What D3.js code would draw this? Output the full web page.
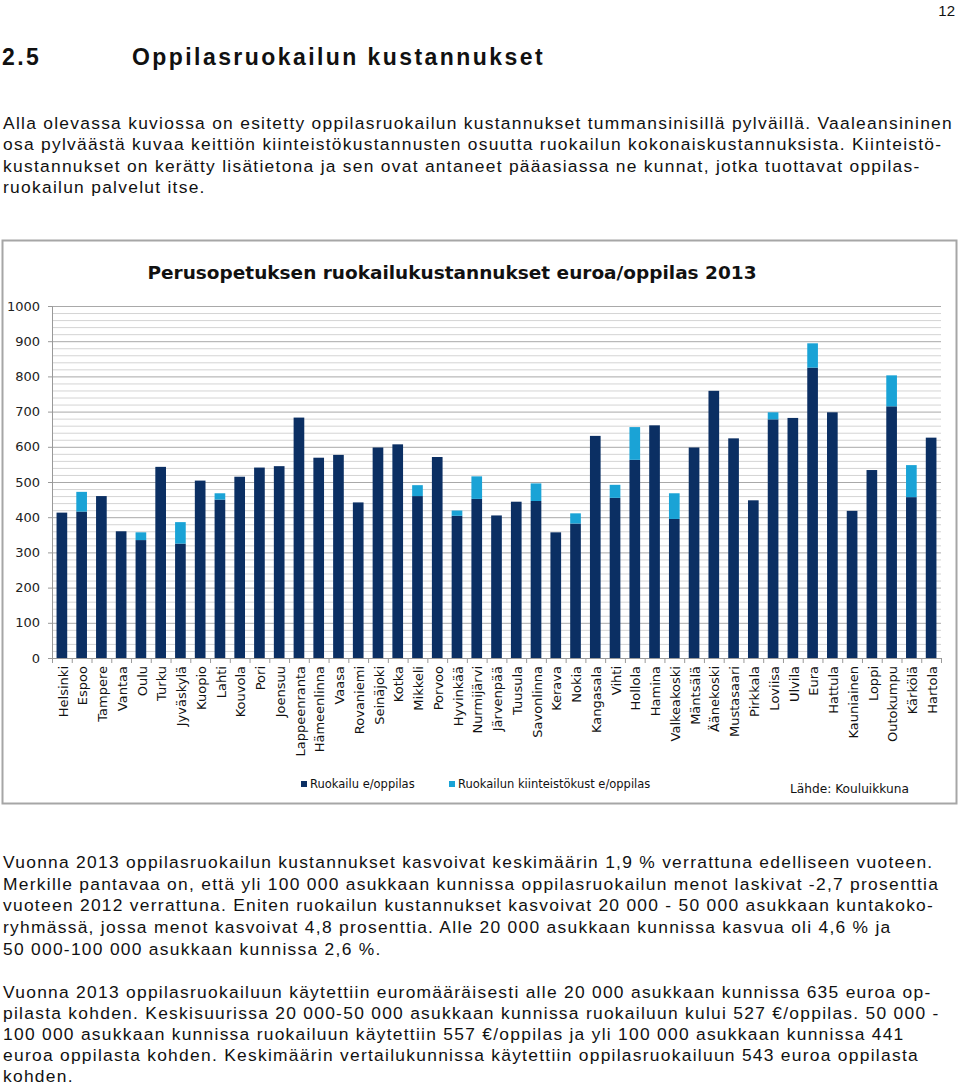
<!DOCTYPE html>
<html><head><meta charset="utf-8">
<script src="https://cdn.jsdelivr.net/npm/d3@7"></script>
<style>body{margin:0;background:#fff}svg{display:block}</style>
</head><body>
<svg id="c" width="960" height="1086"></svg>
<script>
// ---------- DATA ----------
const categories = ["Helsinki","Espoo","Tampere","Vantaa","Oulu","Turku","Jyväskylä","Kuopio","Lahti","Kouvola","Pori","Joensuu","Lappeenranta","Hämeenlinna","Vaasa","Rovaniemi","Seinäjoki","Kotka","Mikkeli","Porvoo","Hyvinkää","Nurmijärvi","Järvenpää","Tuusula","Savonlinna","Kerava","Nokia","Kangasala","Vihti","Hollola","Hamina","Valkeakoski","Mäntsälä","Äänekoski","Mustasaari","Pirkkala","Loviisa","Ulvila","Eura","Hattula","Kauniainen","Loppi","Outokumpu","Kärkölä","Hartola"];
const ruokailu   = [413,416,460,360,335,543,325,504,450,515,541,545,683,569,577,442,598,607,460,571,404,452,405,444,446,357,382,631,455,563,661,395,598,759,624,448,678,682,825,698,418,534,715,457,626];
const kiinteisto = [0,56,0,0,22,0,61,0,18,0,0,0,0,0,0,0,0,0,31,0,15,64,0,0,50,0,29,0,37,93,0,73,0,0,0,0,20,0,69,0,0,0,88,91,0];
const yTicks = [0,100,200,300,400,500,600,700,800,900,1000];
const seriesNames = ["Ruokailu e/oppilas","Ruokailun kiinteistökust e/oppilas"];
const chartTitle = "Perusopetuksen ruokailukustannukset euroa/oppilas 2013";
const sourceText = "Lähde: Kouluikkuna";
const pageNumber = "12";
const headingNum = "2.5";
const headingText = "Oppilasruokailun kustannukset";
const para1 = [
 "Alla olevassa kuviossa on esitetty oppilasruokailun kustannukset tummansinisillä pylväillä. Vaaleansininen",
 "osa pylväästä kuvaa keittiön kiinteistökustannusten osuutta ruokailun kokonaiskustannuksista. Kiinteistö-",
 "kustannukset on kerätty lisätietona ja sen ovat antaneet pääasiassa ne kunnat, jotka tuottavat oppilas-",
 "ruokailun palvelut itse."
];
const para2 = [
 "Vuonna 2013 oppilasruokailun kustannukset kasvoivat keskimäärin 1,9 % verrattuna edelliseen vuoteen.",
 "Merkille pantavaa on, että yli 100 000 asukkaan kunnissa oppilasruokailun menot laskivat -2,7 prosenttia",
 "vuoteen 2012 verrattuna. Eniten ruokailun kustannukset kasvoivat 20 000 - 50 000 asukkaan kuntakoko-",
 "ryhmässä, jossa menot kasvoivat 4,8 prosenttia. Alle 20 000 asukkaan kunnissa kasvua oli 4,6 % ja",
 "50 000-100 000 asukkaan kunnissa 2,6 %."
];
const para3 = [
 "Vuonna 2013 oppilasruokailuun käytettiin euromääräisesti alle 20 000 asukkaan kunnissa 635 euroa op-",
 "pilasta kohden. Keskisuurissa 20 000-50 000 asukkaan kunnissa ruokailuun kului 527 €/oppilas. 50 000 -",
 "100 000 asukkaan kunnissa ruokailuun käytettiin 557 €/oppilas ja yli 100 000 asukkaan kunnissa 441",
 "euroa oppilasta kohden. Keskimäärin vertailukunnissa käytettiin oppilasruokailuun 543 euroa oppilasta",
 "kohden."
];

// ---------- STYLE ----------
const DARK = "#0b2f63", LIGHT = "#1aa3d6";
const svg = d3.select("#c");
const bodyFont = "'Liberation Sans', Arial, sans-serif";
const chartFont = "'DejaVu Sans', Verdana, sans-serif";

// ---------- PAGE TEXT ----------
svg.append("text").attr("x",955).attr("y",16).attr("text-anchor","end")
  .attr("font-family",bodyFont).attr("font-size",15).attr("fill","#111").text(pageNumber);

const h = svg.append("g").attr("font-family",bodyFont).attr("font-weight","bold").attr("font-size",23).attr("fill","#111");
const hText = h.append("text").attr("x",132).attr("y",65).text(headingText);
const hw = hText.node().getComputedTextLength();
const hls = (413 - hw) / headingText.length;
hText.attr("letter-spacing", hls);
h.append("text").attr("x",2).attr("y",65).attr("letter-spacing",hls).text(headingNum);

const bodyG = svg.append("g").attr("font-family",bodyFont).attr("font-size",17.4).attr("fill","#111");
const probe = bodyG.append("text").text(para1[0]);
const pw = probe.node().getComputedTextLength();
probe.remove();
const bls = (950 - pw) / para1[0].length;
function drawPara(lines, y0, lh){
  bodyG.append("g").selectAll("text").data(lines).join("text")
    .attr("x",3).attr("y",(d,i)=>y0 + i*lh)
    .attr("letter-spacing",bls).text(d=>d);
}
drawPara(para1,128.5,21.5);
drawPara(para2,868,21.7);
drawPara(para3,997.5,21.1);

// ---------- CHART ----------
svg.append("rect").attr("x",2.5).attr("y",240.5).attr("width",954).attr("height",563)
  .attr("fill","#fff").attr("stroke","#a6a6a6").attr("stroke-width",2);

const x = d3.scaleBand().domain(categories).range([52,941]).paddingInner(0.46).paddingOuter(0.23);
const y = d3.scaleLinear().domain([0,1000]).range([658,306]);

// minor gridlines
svg.append("g").selectAll("line").data(d3.range(0,1001,20).filter(v=>v%100!==0)).join("line")
  .attr("x1",52).attr("x2",941).attr("y1",d=>y(d)+0.5).attr("y2",d=>y(d)+0.5)
  .attr("stroke","#d4d4d4").attr("stroke-width",1);
// major gridlines
svg.append("g").selectAll("line").data(yTicks.filter(v=>v>0)).join("line")
  .attr("x1",52).attr("x2",941).attr("y1",d=>y(d)+0.5).attr("y2",d=>y(d)+0.5)
  .attr("stroke","#a9a9a9").attr("stroke-width",1);

// y axis
const ya = svg.append("g").attr("transform","translate(52,0)")
  .call(d3.axisLeft(y).tickValues(yTicks).tickFormat(d3.format("d")).tickSize(4).tickPadding(8));
ya.select(".domain").attr("stroke","#999");
ya.selectAll(".tick line").attr("stroke","#999");
ya.selectAll("text").attr("font-family",chartFont).attr("font-size",13).attr("fill","#222");

// bars
const data = categories.map((c,i)=>({c, a:ruokailu[i], b:kiinteisto[i]}));
svg.append("g").selectAll("rect").data(data).join("rect")
  .attr("x",d=>x(d.c)).attr("width",x.bandwidth())
  .attr("y",d=>y(d.a)).attr("height",d=>y(0)-y(d.a)).attr("fill",DARK);
svg.append("g").selectAll("rect").data(data.filter(d=>d.b>0)).join("rect")
  .attr("x",d=>x(d.c)).attr("width",x.bandwidth())
  .attr("y",d=>y(d.a+d.b)).attr("height",d=>y(d.a)-y(d.a+d.b)).attr("fill",LIGHT);

// x axis line + ticks between categories
const xg = svg.append("g");
xg.append("line").attr("x1",52).attr("x2",941).attr("y1",y(0)+0.5).attr("y2",y(0)+0.5).attr("stroke","#999");
const bounds = categories.map(c=>x(c) - x.step()*x.paddingInner()/2).concat([941]);
xg.selectAll("line.t").data(bounds).join("line").attr("class","t")
  .attr("x1",d=>d+0.5).attr("x2",d=>d+0.5).attr("y1",y(0)).attr("y2",y(0)+5).attr("stroke","#999");

// x labels
svg.append("g").selectAll("text").data(categories).join("text")
  .attr("transform",d=>`translate(${x(d)+x.bandwidth()/2+1},666) rotate(-90)`)
  .attr("dy","0.36em").attr("text-anchor","end")
  .attr("font-family",chartFont).attr("font-size",13).attr("fill","#111").text(d=>d);

// title
const t = svg.append("text").attr("x",452).attr("y",279).attr("text-anchor","middle")
  .attr("font-family",chartFont).attr("font-weight","bold").attr("font-size",18).attr("fill","#111")
  .text(chartTitle);
t.attr("textLength",609).attr("lengthAdjust","spacingAndGlyphs");

// legend
const legX = [301,449];
const lg = svg.append("g");
seriesNames.forEach((s,i)=>{
  lg.append("rect").attr("x",legX[i]).attr("y",781).attr("width",6).attr("height",6).attr("fill",[DARK,LIGHT][i]);
  lg.append("text").attr("x",legX[i]+9).attr("y",788).attr("font-family",chartFont).attr("font-size",11.5).attr("fill","#111").text(s);
});
svg.append("text").attr("x",790).attr("y",793).attr("font-family",chartFont).attr("font-size",12.2).attr("fill","#111").text(sourceText);
</script>
</body></html>
